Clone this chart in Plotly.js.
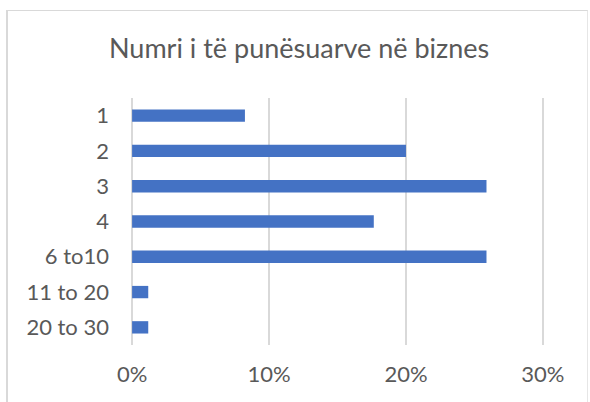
<!DOCTYPE html>
<html>
<head>
<meta charset="utf-8">
<script src="https://cdn.plot.ly/plotly-3.0.1.min.js"></script>
<style>
  html, body { margin: 0; padding: 0; background: #ffffff; }
  #wrap { position: relative; width: 590px; height: 402px; }
  #chart { width: 590px; height: 402px; }
  #frame { position: absolute; left: 6px; top: 10px; width: 582px; height: 420px;
           border-left: 2px solid #d9d9d9; border-top: 1.5px solid #d9d9d9; border-right: 1px solid #e6e6e6;
           pointer-events: none; box-sizing: border-box; }
</style>
</head>
<body>
<div id="wrap">
  <div id="chart"></div>
  <div id="frame"></div>
</div>
<script>
// Data (share of businesses by number of employees)
const categories = ["1", "2", "3", "4", "6 to10", "11 to 20", "20 to 30"];
const shares = [0.0824, 0.2000, 0.2588, 0.1765, 0.2588, 0.0118, 0.0118];
const xTickValues = [0, 0.1, 0.2, 0.3];
const xTickLabels = ["0%", "10%", "20%", "30%"];
const chartTitle = "Numri i të punësuarve në biznes";

const textColor = "#595959";
const fontFamily = "Lato, 'Open Sans', sans-serif";

const trace = {
  type: "bar",
  orientation: "h",
  y: categories,
  x: shares,
  marker: { color: "#4472C4", line: { width: 0 } },
  hoverinfo: "none"
};

const layout = {
  width: 590,
  height: 402,
  paper_bgcolor: "#ffffff",
  plot_bgcolor: "#ffffff",
  margin: { l: 131, r: 46, t: 98, b: 57 },
  bargap: 0.65,
  showlegend: false,
  font: { family: fontFamily, color: textColor, size: 22 },
  title: {
    text: chartTitle,
    font: { family: fontFamily, color: textColor, size: 27 },
    xref: "container", x: 0.507, xanchor: "center",
    yref: "container", y: 0.878, yanchor: "middle"
  },
  xaxis: {
    range: [-0.0008, 0.3008],
    tickvals: xTickValues,
    ticktext: xTickLabels,
    showgrid: true,
    gridcolor: "#d9d9d9",
    gridwidth: 1.5,
    zeroline: true,
    zerolinecolor: "#d9d9d9",
    zerolinewidth: 1.5,
    showline: false,
    ticks: "",
    ticklabelstandoff: 14,
    tickfont: { family: fontFamily, color: textColor, size: 22 },
    fixedrange: true
  },
  yaxis: {
    type: "category",
    categoryorder: "array",
    categoryarray: categories,
    autorange: "reversed",
    showgrid: false,
    zeroline: false,
    showline: false,
    ticks: "",
    ticklabelstandoff: 21,
    tickfont: { family: fontFamily, color: textColor, size: 22 },
    fixedrange: true
  }
};

Plotly.newPlot("chart", [trace], layout, { displayModeBar: false, staticPlot: true });
</script>
</body>
</html>
